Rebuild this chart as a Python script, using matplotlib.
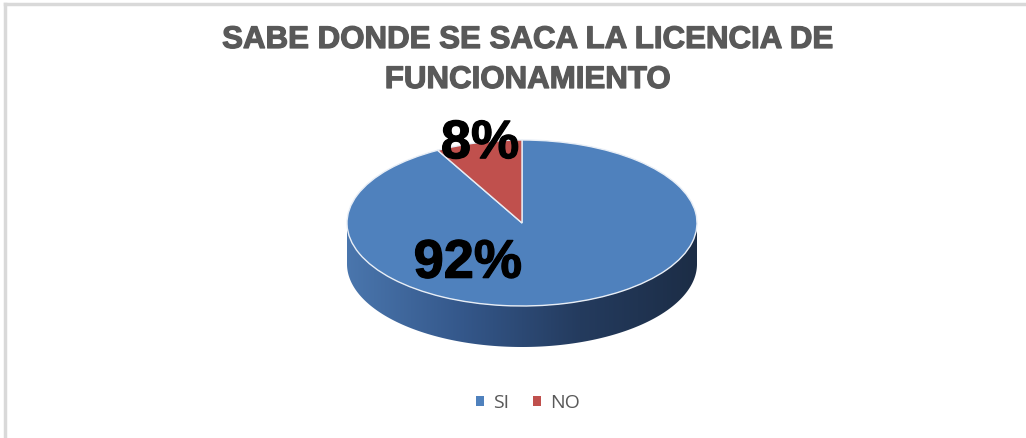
import numpy as np
import matplotlib.pyplot as plt
import matplotlib.patheffects as pe
from matplotlib.patches import Polygon
from matplotlib.colors import LinearSegmentedColormap

# Datos
labels = ['SI', 'NO']
values = [92, 8]
colors = ['#4F81BD', '#C0504D']
title = 'SABE DONDE SE SACA LA LICENCIA DE\nFUNCIONAMIENTO'

W, H = 1026, 438
fig = plt.figure(figsize=(W / 100, H / 100), dpi=100)
fig.patch.set_facecolor('white')

# borde gris del grafico (solo arriba e izquierda visibles)
fig.add_artist(plt.Line2D([5 / W, 5 / W], [0, 1 - 4 / H], color='#d9d9d9', lw=2.5))
fig.add_artist(plt.Line2D([5 / W, 1], [1 - 4 / H, 1 - 4 / H], color='#d9d9d9', lw=2.5))

# ejes del pastel: elipse en pixeles
x0, x1 = 347, 697
y_top, y_bot = 140, 347
ry = 83
depth = (y_bot - y_top) / ry - 2

ax = fig.add_axes([x0 / W, (H - y_bot) / H, (x1 - x0) / W, (y_bot - y_top) / H])
wedges, texts, autotexts = ax.pie(values, colors=colors, startangle=90, counterclock=False,
                                  autopct='%1.0f%%', radius=1,
                                  wedgeprops=dict(edgecolor='#e8eef6', linewidth=1.0, zorder=3))
ax.set_aspect('auto')

# lateral 3D con degradado
t = np.linspace(np.pi, 2 * np.pi, 200)
top_edge = np.column_stack([np.cos(t), np.sin(t)])
bot_edge = np.column_stack([np.cos(t[::-1]), np.sin(t[::-1]) - depth])
side = Polygon(np.vstack([top_edge, bot_edge]), closed=True, facecolor='none', edgecolor='none')
ax.add_patch(side)
cmap = LinearSegmentedColormap.from_list('side', ['#4a76ad', '#34578a', '#243b5e', '#1c2d46'])
grad = np.linspace(0, 1, 256).reshape(1, -1)
im = ax.imshow(grad, cmap=cmap, extent=[-1, 1, -1 - depth, 0], aspect='auto', zorder=1)
im.set_clip_path(side)
ax.set_xlim(-1, 1)
ax.set_ylim(-1 - depth, 1)
ax.axis('off')

# etiquetas de porcentaje
label_pos = [(-0.31, -0.49), (-0.24, 0.95)]
for txt, pos in zip(autotexts, label_pos):
    txt.set_position(pos)
    txt.set_fontsize(39)
    txt.set_fontweight('bold')
    txt.set_color('black')
    txt.set_family('Liberation Sans')
    txt.set_ha('center')
    txt.set_va('center')
    txt.set_zorder(5)
    txt.set_path_effects([pe.Stroke(linewidth=0.9, foreground='black'), pe.Normal()])

# titulo
for line, yc in zip(title.split('\n'), [40, 80]):
    fig.text(528 / W, 1 - yc / H, line, ha='center', va='center', fontsize=22.5,
             fontweight='bold', color='#595959', family='Liberation Sans',
             path_effects=[pe.Stroke(linewidth=0.9, foreground='#595959'), pe.Normal()])

# leyenda
fig.legend(wedges, labels, loc='center', bbox_to_anchor=(528 / W, 1 - 403 / H), ncol=2,
           frameon=False, handlelength=0.4, handleheight=0.4,
           handletextpad=0.5, columnspacing=1.2, labelcolor='#595959',
           prop={'family': 'Open Sans', 'size': 14})
for h in fig.legends[0].legend_handles:
    h.set_edgecolor('none')

fig.savefig('out.png', dpi=100)
